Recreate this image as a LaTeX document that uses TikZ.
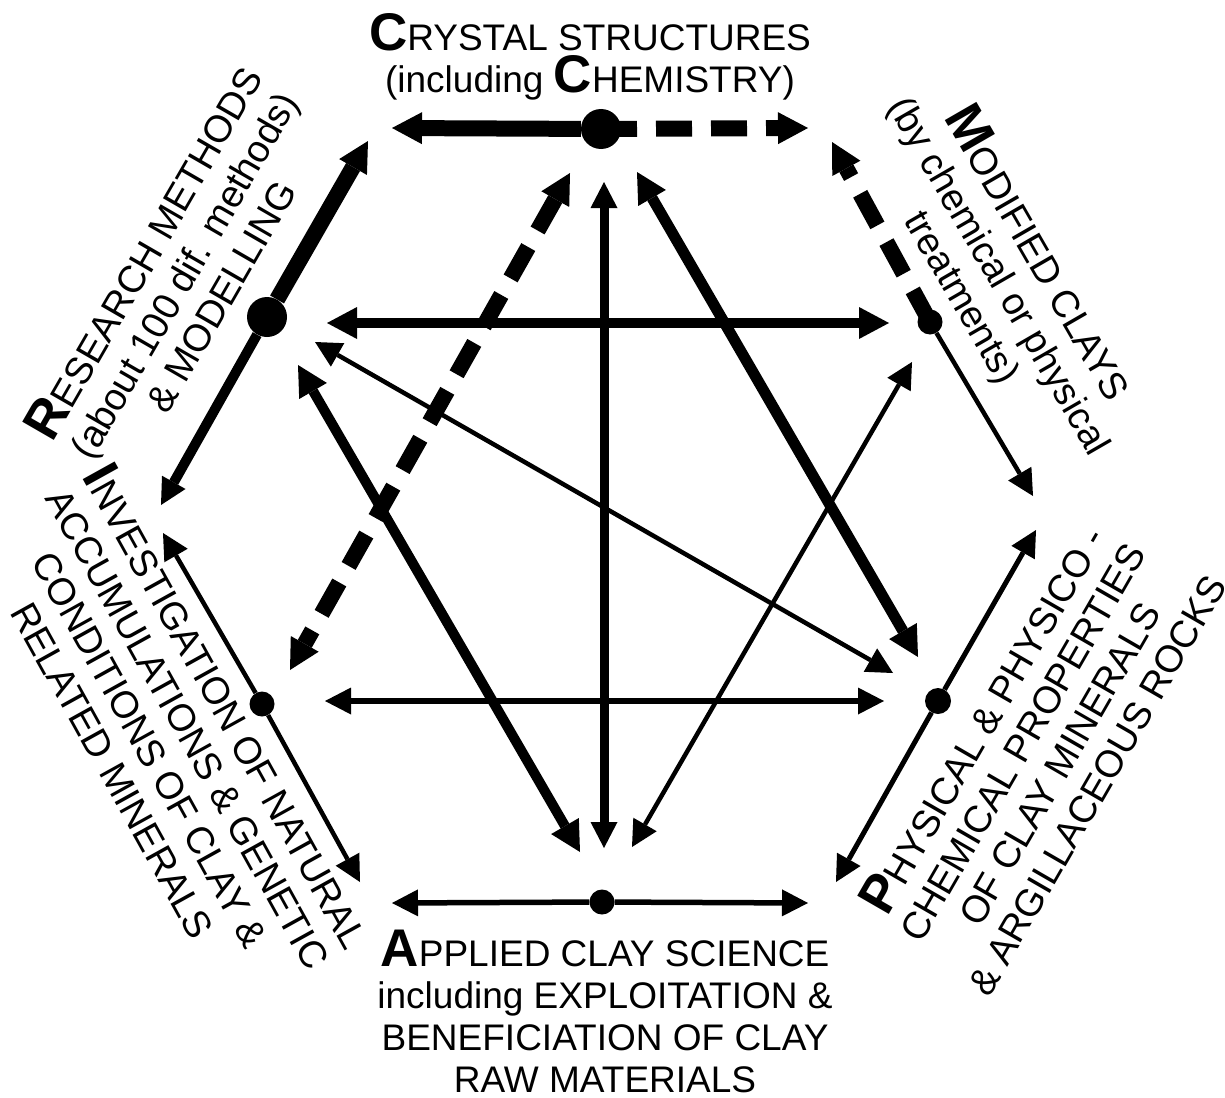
\documentclass[tikz,border=0pt]{standalone}
\usepackage{fontspec}
\setmainfont{Liberation Sans}
\usetikzlibrary{arrows.meta}
\newcommand\ini[1]{{\fontsize{53}{42}\selectfont\bfseries #1}}

\begin{document}
\begin{tikzpicture}[x=1pt, y=-1pt,
  lbl/.style={font=\fontsize{37}{42}\selectfont, align=center, inner sep=0pt},
  slant/.style={lbl, font=\fontsize{38}{43}\selectfont, rotate=#1},
  hub/.style={circle, fill, inner sep=0pt, minimum size=#1},
  twoway/.style={{Triangle[length=26pt,width=27pt,line width=0pt]}-{Triangle[length=26pt,width=27pt,line width=0pt]}, line width=#1},
  twowaybig/.style={{Triangle[length=30pt,width=32pt,line width=0pt]}-{Triangle[length=30pt,width=32pt,line width=0pt]}, line width=#1},
  oneway/.style={-{Triangle[length=26pt,width=27pt,line width=0pt]}, line width=#1},
  onewaybig/.style={-{Triangle[length=30pt,width=32pt,line width=0pt]}, line width=#1},
  dashy/.style={dash pattern=on 36pt off 19pt}]
  \useasboundingbox (0,0) rectangle (1225,1097);
  % the six topics
  \node[hub=40pt] (C) at (601,129) {};
  \node[hub=40pt] (R) at (267,317) {};
  \node[hub=25pt] (M) at (930,322) {};
  \node[hub=26pt] (P) at (938,701) {};
  \node[hub=25pt] (A) at (602,902) {};
  \node[hub=25pt] (I) at (262,704) {};
  % hexagon ends
  \coordinate (c1) at (392,128); \coordinate (c2) at (808,128);
  \coordinate (r1) at (368,141); \coordinate (r2) at (161,505);
  \coordinate (m1) at (832,142); \coordinate (m2) at (1033,496);
  \coordinate (p1) at (1036,530); \coordinate (p2) at (836,882);
  \coordinate (a1) at (392,903); \coordinate (a2) at (808,903);
  \coordinate (i1) at (163,533); \coordinate (i2) at (360,882);
  % inner link ends
  \coordinate (rM) at (327,323); \coordinate (mR) at (889,323);
  \coordinate (iP) at (325,701); \coordinate (pI) at (884,701);
  \coordinate (cA) at (604,182); \coordinate (aC) at (604,848);
  \coordinate (cI) at (570,173); \coordinate (iC) at (290,670);
  \coordinate (cP) at (637,172); \coordinate (pC) at (918,657);
  \coordinate (rA) at (298,365); \coordinate (aR) at (580,852);
  \coordinate (rP) at (315,342); \coordinate (pR) at (893,673);
  \coordinate (mA) at (912,362); \coordinate (aM) at (632,847);

  \draw[onewaybig=16pt] (C) -- (c1);
  \draw[onewaybig=16pt, dashy] (C.center) -- (c2);
  \draw[onewaybig=16pt] (R) -- (r1);
  \draw[oneway=10pt] (R) -- (r2);
  \draw[onewaybig=16pt, dashy] (M.center) -- (m1);
  \foreach \h/\e/\w in {M/m2/4.5pt, P/p1/5pt, P/p2/5pt, A/a1/5.5pt, A/a2/5.5pt, I/i1/4.5pt, I/i2/4.5pt}
    \draw[oneway=\w] (\h) -- (\e);

  \foreach \s/\t/\w in {iP/pI/5.5pt, cA/aC/9pt, rP/pR/4.5pt, mA/aM/4.5pt}
    \draw[twoway=\w] (\s) -- (\t);
  \foreach \s/\t/\w in {rM/mR/10pt, cP/pC/11pt, rA/aR/10pt}
    \draw[twowaybig=\w] (\s) -- (\t);
  \draw[twowaybig=16pt, dashy] (cI) -- (iC);

  % labels
  \node[lbl] (crys) at (590,57) {\ini{C}RYSTAL STRUCTURES\\(including \ini{C}HEMISTRY)};
  \node[lbl] (appl) at (605,1011) {\ini{A}PPLIED CLAY SCIENCE\\including EXPLOITATION \&\\BENEFICIATION OF CLAY\\RAW MATERIALS};
  \node[slant=60] (rese) at (180,273) {\ini{R}ESEARCH METHODS\\(about 100 dif. methods)\\\& MODELLING};
  \node[slant=-60] (modi) at (1001,275) {\ini{M}ODIFIED CLAYS\\(by chemical or physical\\treatments)};
  \node[slant=-61] (inve) at (173,737) {\ini{I}NVESTIGATION OF NATURAL\\ACCUMULATIONS \& GENETIC\\CONDITIONS OF CLAY \&\\RELATED MINERALS};
  \node[slant=60] (phys) at (1037,751) {\ini{P}HYSICAL \& PHYSICO -\\CHEMICAL PROPERTIES\\OF CLAY MINERALS\\\& ARGILLACEOUS ROCKS};
\end{tikzpicture}
\end{document}
